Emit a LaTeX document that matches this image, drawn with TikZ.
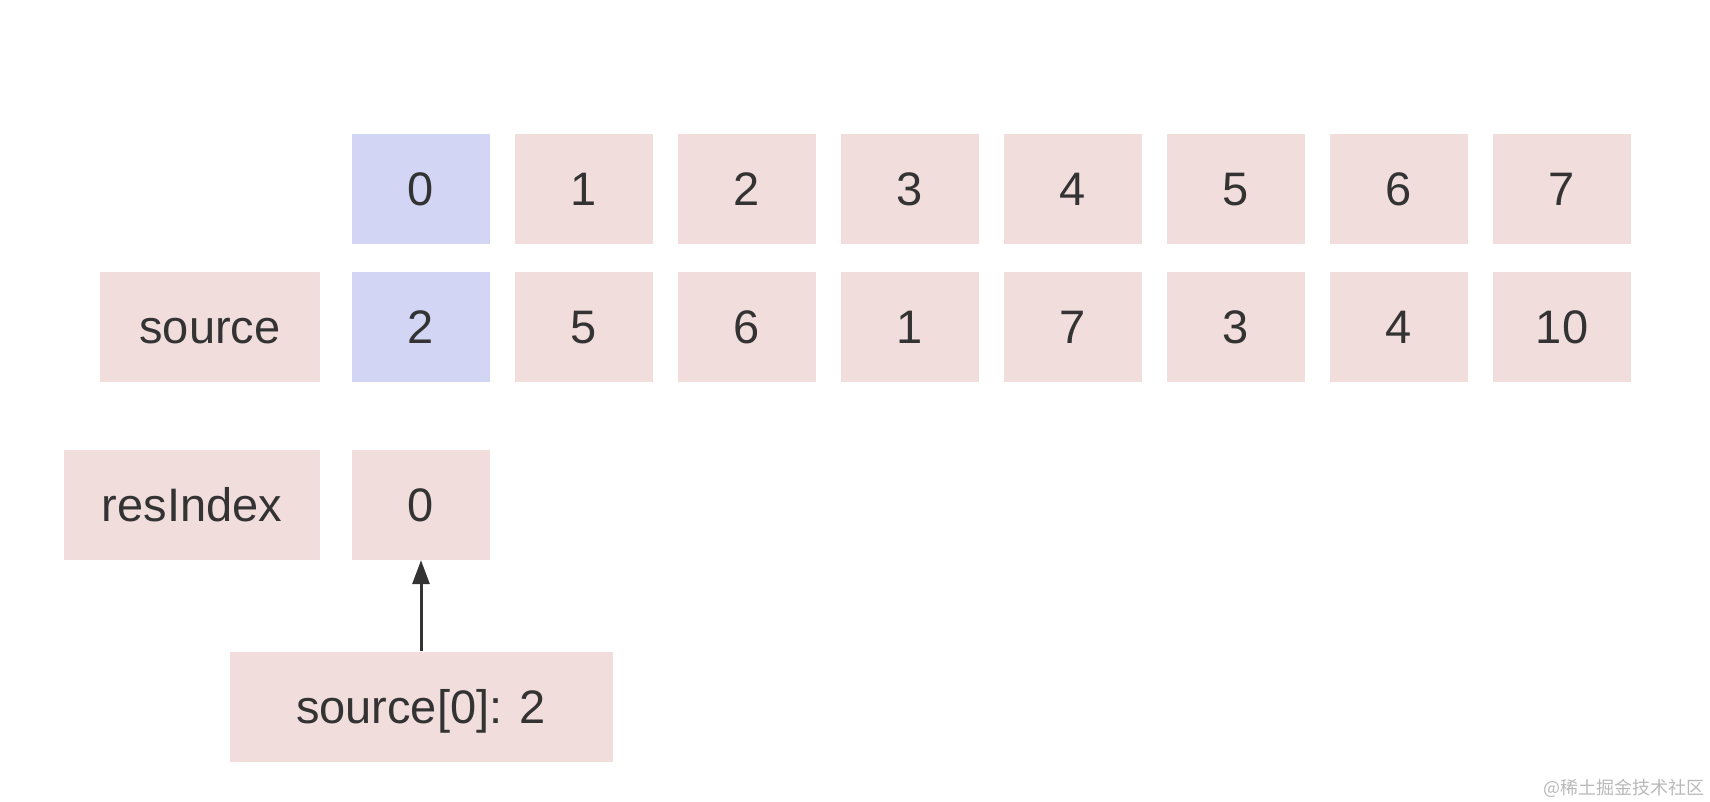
\documentclass[tikz,border=0pt]{standalone}
\usepackage{fontspec}
\setmainfont{Liberation Sans}
\newfontfamily\cjkfont{Noto Sans CJK SC}
\usetikzlibrary{arrows.meta}
\definecolor{cellpink}{RGB}{242,221,221}
\definecolor{cellblue}{RGB}{211,213,245}
\definecolor{inkgray}{RGB}{51,51,51}
\definecolor{markgray}{RGB}{185,185,185}

\begin{document}
\begin{tikzpicture}[x=1pt,y=-1pt,line cap=round,
    cell/.style={fill=cellpink,text=inkgray,inner sep=0pt,
      minimum width=138pt,minimum height=110pt,
      text height=33pt,text depth=0pt,
      font=\fontsize{47}{50}\selectfont},
    hot/.style={cell,fill=cellblue}]
  % Tunables
  \def\cx{421}      % x center of column 0
  \def\dx{163}      % step between columns
  \def\ya{189}      % y center of the index row
  \def\yb{327}      % y center of the source row
  \def\yc{505}      % y center of the resIndex row
  \def\yd{706.5}    % y center of the picked value box

  \useasboundingbox (0,0) rectangle (1710,802);

  % Index row and source row
  \foreach \i/\v/\s in {0/2/hot,1/5/cell,2/6/cell,3/1/cell,4/7/cell,5/3/cell,6/4/cell,7/10/cell}{
    \node[\s] (idx\i) at (\cx+\dx*\i,\ya) {\i};
    \node[\s] (src\i) at (\cx+\dx*\i,\yb) {\v};
  }
  \node[cell,minimum width=220pt] (srclabel) at (210,\yb) {source};

  % resIndex
  \node[cell,minimum width=256pt] (reslabel) at (192,\yc) {resIndex};
  \node[cell] (res0) at (\cx,\yc) {0};

  % Picked value
  \node[cell,minimum width=383pt] (pick) at (\cx,\yd) {source[0]: 2};
  \draw[inkgray,line width=3pt,line cap=butt,-{Triangle[length=24pt,width=17pt]}] (pick) -- (res0);

  % Watermark
  \node[anchor=east,inner sep=0pt,text=markgray,font=\cjkfont\fontsize{18}{20}\selectfont] (mark) at (1705,788) {@稀土掘金技术社区};
\end{tikzpicture}
\end{document}
